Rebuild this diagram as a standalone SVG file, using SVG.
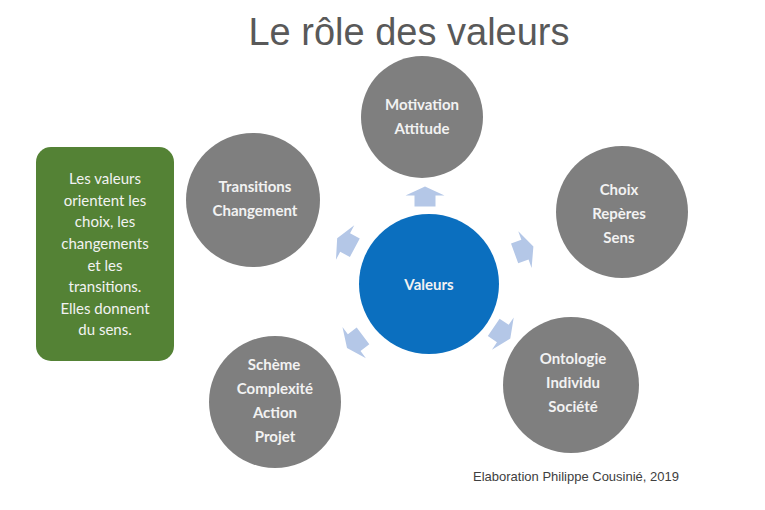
<svg xmlns="http://www.w3.org/2000/svg" width="765" height="510" viewBox="0 0 765 510">
<style>
.c{fill:#7f7f7f}
.t{font-family:Lato,"Open Sans","Liberation Sans",sans-serif;font-size:15px;font-weight:bold;fill:#f2f2f2;text-anchor:middle}
.g{font-family:Lato,"Liberation Sans",sans-serif;font-size:15px;fill:#f2f2f2;text-anchor:middle}
.a{fill:#b4c7e7}
</style>
<defs>
<path id="arr" d="M0,-10 L19.5,-1 L10.5,-1 L10.5,10 L-10.5,10 L-10.5,-1 L-19.5,-1 Z"/>
</defs>
<rect width="765" height="510" fill="#ffffff"/>
<text x="409" y="45" font-family="'Liberation Sans',Arial,sans-serif" font-size="38" fill="#595959" text-anchor="middle">Le rôle des valeurs</text>
<g id="note">
<rect x="36" y="147" width="138" height="214" rx="15" fill="#548235"/>
<text class="g"><tspan x="105" y="184">Les valeurs</tspan><tspan x="105" y="206">orientent les</tspan><tspan x="105" y="227">choix, les</tspan><tspan x="105" y="249">changements</tspan><tspan x="105" y="271">et les</tspan><tspan x="105" y="292">transitions.</tspan><tspan x="105" y="314">Elles donnent</tspan><tspan x="105" y="335">du sens.</tspan></text>
</g>
<g id="motivation"><circle class="c" cx="422" cy="117" r="61"/><text class="t"><tspan x="422" y="110">Motivation</tspan><tspan x="422" y="134">Attitude</tspan></text></g>
<g id="transitions"><circle class="c" cx="253" cy="200" r="67"/><text class="t"><tspan x="255" y="192">Transitions</tspan><tspan x="255" y="216">Changement</tspan></text></g>
<g id="choix"><circle class="c" cx="622" cy="212" r="66"/><text class="t"><tspan x="619" y="195">Choix</tspan><tspan x="619" y="219">Repères</tspan><tspan x="619" y="243">Sens</tspan></text></g>
<g id="scheme"><circle class="c" cx="275" cy="402" r="66"/><text class="t"><tspan x="274" y="370">Schème</tspan><tspan x="275" y="394">Complexité</tspan><tspan x="275" y="418">Action</tspan><tspan x="275" y="442">Projet</tspan></text></g>
<g id="ontologie"><circle class="c" cx="571" cy="385" r="68"/><text class="t"><tspan x="573" y="364">Ontologie</tspan><tspan x="573" y="388">Individu</tspan><tspan x="573" y="412">Société</tspan></text></g>
<g id="valeurs"><circle cx="429" cy="284" r="70" fill="#0b6fbf"/><text class="t" x="429" y="290" font-size="18">Valeurs</text></g>
<g id="connectors">
<use href="#arr" class="a" transform="translate(425,196.5)"/>
<use href="#arr" class="a" transform="translate(346,243) rotate(-62)"/>
<use href="#arr" class="a" transform="translate(524,250) rotate(70)"/>
<use href="#arr" class="a" transform="translate(355,342) rotate(-127)"/>
<use href="#arr" class="a" transform="translate(502,333) rotate(124)"/>
</g>
<text x="576" y="481" font-family="'Liberation Sans',Arial,sans-serif" font-size="13" fill="#404040" text-anchor="middle">Elaboration Philippe Cousinié, 2019</text>
</svg>
